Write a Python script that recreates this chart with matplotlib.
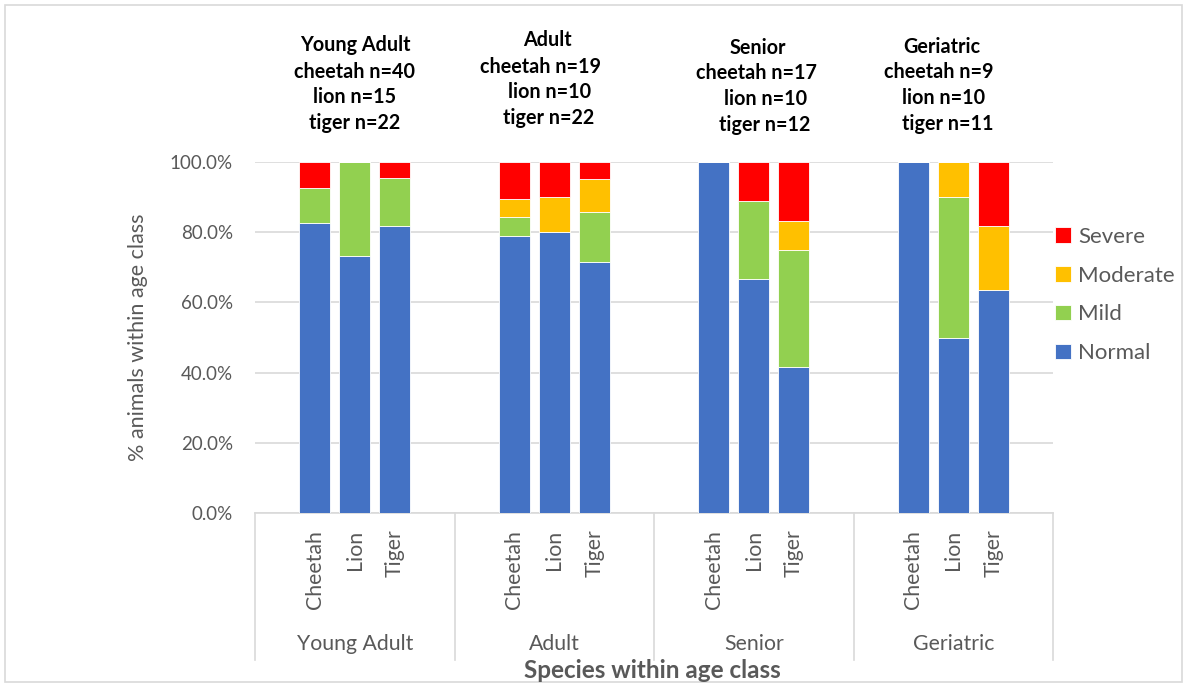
import numpy as np
import matplotlib.pyplot as plt
from matplotlib.ticker import PercentFormatter, MultipleLocator
from matplotlib.patches import Rectangle
from matplotlib.lines import Line2D
import matplotlib.transforms as mtransforms

plt.rcParams['font.family'] = ['Lato', 'DejaVu Sans']

# age classes and species (three bars per age class)
age_classes = ['Young Adult', 'Adult', 'Senior', 'Geriatric']
species = ['Cheetah', 'Lion', 'Tiger']
headers = [
    ['Young Adult', 'cheetah n=40', 'lion n=15', 'tiger n=22'],
    ['Adult', 'cheetah n=19', 'lion n=10', 'tiger n=22'],
    ['Senior', 'cheetah n=17', 'lion n=10', 'tiger n=12'],
    ['Geriatric', 'cheetah n=9', 'lion n=10', 'tiger n=11'],
]

# % of animals in each grade, order: YA(C,L,T), Adult(C,L,T), Senior(C,L,T), Geriatric(C,L,T)
normal = [82.5, 73.3, 81.8, 78.9, 80.0, 71.4, 100.0, 66.7, 41.7, 100.0, 50.0, 63.6]
mild = [10.0, 26.7, 13.6, 5.3, 0.0, 14.3, 0.0, 22.2, 33.3, 0.0, 40.0, 0.0]
moderate = [0.0, 0.0, 0.0, 5.3, 10.0, 9.5, 0.0, 0.0, 8.3, 0.0, 10.0, 18.2]
severe = [7.5, 0.0, 4.6, 10.5, 10.0, 4.8, 0.0, 11.1, 16.7, 0.0, 0.0, 18.2]

grades = ['Normal', 'Mild', 'Moderate', 'Severe']
colors = ['#4472C4', '#92D050', '#FFC000', '#FF0000']

W, H = 1187, 687
fig = plt.figure(figsize=(W / 100, H / 100), dpi=100)
fig.patch.set_facecolor('white')

def px(x, y):
    return x / W, 1 - y / H

# outer chart border
fig.patches.append(Rectangle(px(5, 682), 1177 / W, 677 / H, transform=fig.transFigure,
                             fill=False, edgecolor='#d9d9d9', linewidth=1.2))

left, top = px(255, 162)
right, bottom = px(1053, 513)
ax = fig.add_axes([left, bottom, right - left, top - bottom])

# 5 slots per age class, bars in the middle three
x = np.array([5 * g + 1.5 + i for g in range(len(age_classes)) for i in range(len(species))])
bottoms = np.zeros(len(x))
series = [normal, mild, moderate, severe]
handles = []
for vals, col, name in zip(series, colors, grades):
    vals = np.array(vals)
    b = ax.bar(x, vals, 0.78, bottom=bottoms, color=col, edgecolor='white',
               linewidth=0.6, label=name, zorder=3)
    handles.append(b)
    bottoms += vals

ax.set_xlim(0, 20)
ax.set_ylim(0, 100)
ax.yaxis.set_major_locator(MultipleLocator(20))
ax.yaxis.set_major_formatter(PercentFormatter(decimals=1))
ax.grid(axis='y', color='#d9d9d9', linewidth=1.2, zorder=0)
for s in ['left', 'right', 'top']:
    ax.spines[s].set_visible(False)
ax.spines['bottom'].set_color('#d9d9d9')
ax.spines['bottom'].set_linewidth(1.2)
ax.tick_params(axis='y', length=0, pad=16, labelsize=13.5, labelcolor='#595959')
ax.tick_params(axis='x', length=0, pad=12, labelsize=15.3, labelcolor='#595959')
ax.set_xticks(x)
ax.set_xticklabels(species * len(age_classes), rotation=90, va='top', ha='center')

fig.text(*px(138, 337), '% animals within age class', rotation=90, ha='center', va='center',
         fontsize=15.5, color='#595959')

# second level of the category axis
trans = mtransforms.blended_transform_factory(ax.transData, fig.transFigure)
for g in range(len(age_classes) + 1):
    ax.add_line(Line2D([5 * g, 5 * g], [px(0, 513)[1], px(0, 660)[1]], transform=trans,
                       color='#d9d9d9', linewidth=1.2, clip_on=False))
for g, name in enumerate(age_classes):
    ax.text(5 * g + 2.5, px(0, 644)[1], name, transform=trans, ha='center', va='center',
            fontsize=15.3, color='#595959')

fig.text(*px(652, 670), 'Species within age class', ha='center', va='center',
         fontsize=17.5, fontweight='bold', color='#595959')

# sample sizes above each age class
header_x = [[355, 355, 355, 355], [547, 540, 550, 549], [758, 756, 766, 765], [942, 939, 944, 948]]
header_y = [[45, 72, 97, 123], [40, 67, 92, 118], [48, 73, 99, 125], [47, 72, 98, 124]]
for lines, xs, ys in zip(headers, header_x, header_y):
    for txt, hx, hy in zip(lines, xs, ys):
        fig.text(*px(hx, hy), txt, ha='center', va='center', fontsize=14.2,
                 fontweight='bold', color='black')

leg = fig.legend(handles[::-1], grades[::-1], loc='center left', bbox_to_anchor=px(1055, 295),
                 frameon=False, fontsize=16, handlelength=0.7, handleheight=0.7,
                 handletextpad=0.35, labelspacing=0.85, borderaxespad=0, borderpad=0)
for t in leg.get_texts():
    t.set_color('#595959')

fig.savefig('out.png', dpi=100)
